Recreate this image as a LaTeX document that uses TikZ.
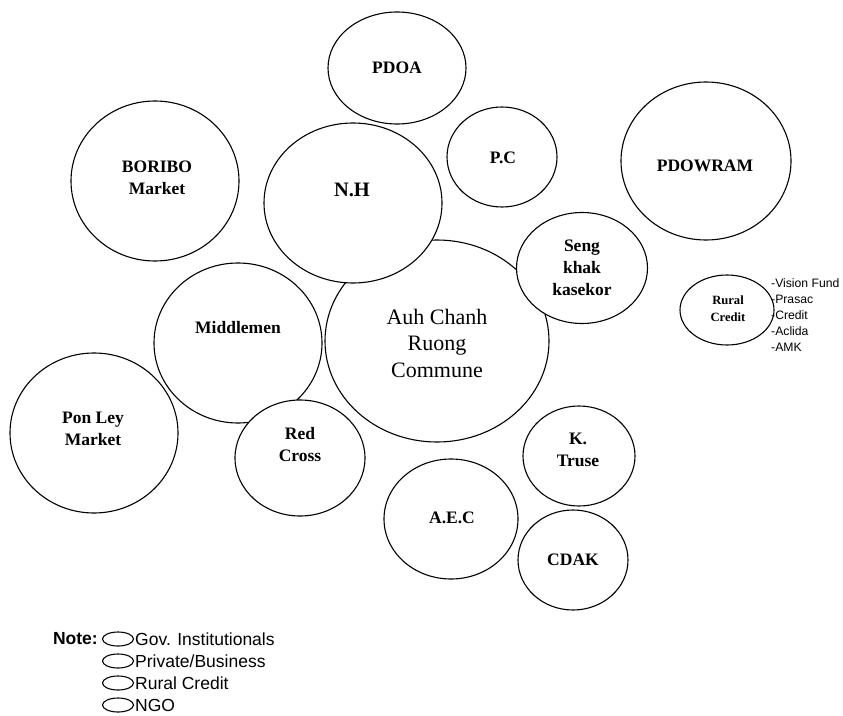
\documentclass[tikz,border=0pt]{standalone}
\usepackage{fontspec}
\setmainfont{Liberation Serif}
\setsansfont{Liberation Sans}
\usetikzlibrary{shapes.geometric}
\begin{document}
\begin{tikzpicture}[x=1bp,y=-1bp,
  bubble/.style={draw=black,fill=white,ellipse,inner sep=0pt,line width=1.1bp},
  lbl/.style={align=center,inner sep=0pt,font=\fontsize{17.5bp}{22bp}\selectfont\bfseries},
  biglbl/.style={align=center,inner sep=0pt,font=\fontsize{20.5bp}{24bp}\selectfont\bfseries},
  hublbl/.style={align=center,inner sep=0pt,font=\fontsize{22bp}{26.5bp}\selectfont},
  smalllbl/.style={align=center,inner sep=0pt,font=\fontsize{12.6bp}{16.5bp}\selectfont\bfseries},
  listtxt/.style={anchor=west,inner sep=0pt,font=\sffamily\fontsize{12.2bp}{15bp}\selectfont},
  keytxt/.style={anchor=west,inner sep=0pt,font=\sffamily\fontsize{17.5bp}{20bp}\selectfont},
  keyring/.style={draw=black,fill=white,ellipse,inner sep=0pt,line width=1.1bp,
    minimum width=31bp,minimum height=14bp}]
\useasboundingbox (0,0) rectangle (843,716);
\fill[white] (0,0) rectangle (843,716);

% outer ring of actors
\node[bubble,minimum width=138bp,minimum height=112bp] (pdoa) at (397,68) {};
\node[lbl] (pdoaT) at (pdoa.center) {PDOA};

\node[bubble,minimum width=168bp,minimum height=160bp] (boribo) at (155,181) {};
\node[lbl] (boriboT) at (157,177.5) {BORIBO\\Market};

\node[bubble,minimum width=110bp,minimum height=100bp] (pc) at (502,157) {};
\node[lbl] (pcT) at (503,158) {P.C};

\node[bubble,minimum width=170bp,minimum height=158bp] (pdowram) at (706,161) {};
\node[lbl] (pdowramT) at (705,166) {PDOWRAM};

\node[bubble,minimum width=94bp,minimum height=70bp] (rural) at (727,310) {};
\node[smalllbl] (ruralT) at (728,308.5) {Rural\\Credit};

\node[bubble,minimum width=168bp,minimum height=160bp] (ponley) at (94,433) {};
\node[lbl] (ponleyT) at (93,429) {Pon Ley\\Market};

\node[bubble,minimum width=168bp,minimum height=160bp] (middle) at (238,343) {};
\node[lbl] (middleT) at (238,328) {Middlemen};

\node[bubble,minimum width=130bp,minimum height=116bp] (redcross) at (300,458) {};
\node[lbl] (redcrossT) at (300,445) {Red\\Cross};

% the commune and the bubbles laid over it
\node[bubble,minimum width=224bp,minimum height=202bp] (commune) at (437,341) {};
\node[hublbl] (communeT) at (437,343) {Auh Chanh\\Ruong\\Commune};

\node[bubble,minimum width=178bp,minimum height=160bp] (nh) at (353,203) {};
\node[biglbl] (nhT) at (352,190) {N.H};

\node[bubble,minimum width=131bp,minimum height=111bp] (seng) at (582,268) {};
\node[lbl] (sengT) at (582,268) {Seng\\khak\\kasekor};

\node[bubble,minimum width=112bp,minimum height=100bp] (ktruse) at (579,456) {};
\node[lbl] (ktruseT) at (578,450) {K.\\Truse};

\node[bubble,minimum width=134bp,minimum height=120bp] (aec) at (451,519) {};
\node[lbl] (aecT) at (452,518) {A.E.C};

\node[bubble,minimum width=110bp,minimum height=100bp] (cdak) at (573,560) {};
\node[lbl] (cdakT) at (573,560) {CDAK};

% rural credit providers
\node[listtxt] (rc1) at (771,283) {-Vision Fund};
\node[listtxt] (rc2) at (771,299) {-Prasac};
\node[listtxt] (rc3) at (771,315.5) {-Credit};
\node[listtxt] (rc4) at (771,331.5) {-Aclida};
\node[listtxt] (rc5) at (771,347.5) {-AMK};

% key
\node[keytxt,anchor=east,font=\sffamily\bfseries\fontsize{17.5bp}{20bp}\selectfont] (note) at (98,639) {Note:};
\node[keyring] (k1) at (118,639) {};
\node[keyring] (k2) at (118,661) {};
\node[keyring] (k3) at (118,683) {};
\node[keyring] (k4) at (118,705) {};
\node[keytxt] (k1T) at (135,639) {Gov. Institutionals};
\node[keytxt] (k2T) at (135,661) {Private/Business};
\node[keytxt] (k3T) at (135,683) {Rural Credit};
\node[keytxt] (k4T) at (135,705) {NGO};
\end{tikzpicture}
\end{document}
